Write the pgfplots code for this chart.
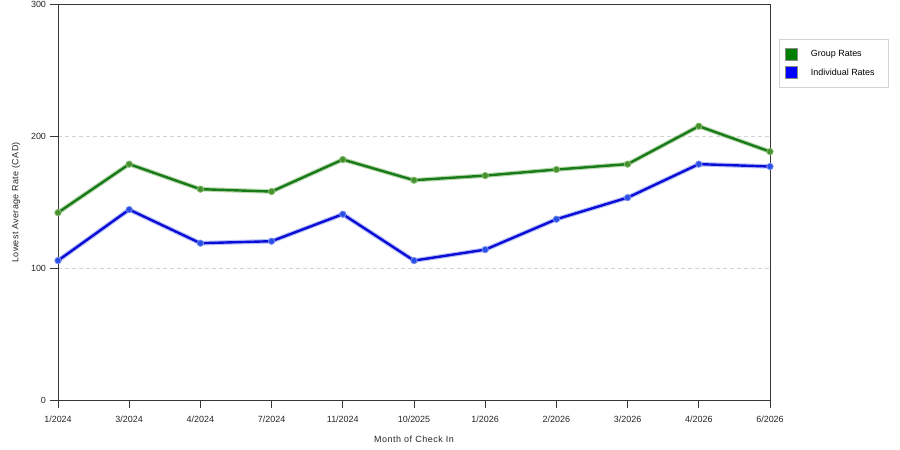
\documentclass[border=0pt]{standalone}
\usepackage{fontspec}
\setmainfont{Liberation Sans}
\newfontfamily\xlabelfont[LetterSpace=6]{Liberation Sans}
\newfontfamily\ylabelfont[LetterSpace=4]{Liberation Sans}
\usepackage{pgfplots}
\pgfplotsset{compat=1.18}

\definecolor{grpline}{RGB}{24,122,24}
\definecolor{grphalo}{RGB}{130,185,110}
\definecolor{grpmark}{RGB}{70,145,45}
\definecolor{grpkey}{RGB}{0,128,0}
\definecolor{indline}{RGB}{12,12,215}
\definecolor{indhalo}{RGB}{120,140,240}
\definecolor{indmark}{RGB}{40,80,230}
\definecolor{indkey}{RGB}{0,0,255}
\definecolor{axisgray}{RGB}{55,55,55}
\definecolor{gridgray}{RGB}{212,212,212}

% lowest average rate per month of check-in
\pgfplotstableread{
x group indiv
0  142.2 105.8
1  179.0 144.5
2  160.0 119.0
3  158.2 120.5
4  182.5 141.0
5  166.8 105.8
6  170.3 114.1
7  174.9 137.2
8  179.0 153.6
9  207.8 179.0
10 188.5 177.2
}\rates

\begin{document}
\begin{tikzpicture}
\begin{axis}[
    name=ax,
    at={(0,0)}, anchor=south west,
    scale only axis,
    width=712bp, height=395.3bp,
    xmin=0, xmax=10,
    ymin=0, ymax=300,
    xtick={0,...,10},
    xticklabels={1/2024,3/2024,4/2024,7/2024,11/2024,10/2025,1/2026,2/2026,3/2026,4/2026,6/2026},
    ytick={0,100,200,300},
    xtick pos=left, ytick pos=left,
    tick align=outside,
    major tick length=8bp,
    every tick/.style={axisgray, line width=0.8bp},
    axis line style={axisgray, line width=0.9bp},
    ymajorgrids=true,
    grid style={gridgray, dash pattern=on 4bp off 3bp, line width=0.6bp},
    /pgf/number format/assume math mode=true,
    ticklabel style={font=\fontsize{9}{10}\selectfont, text=black!85},
    xticklabel style={yshift=-4.5bp},
    yticklabel style={xshift=-0.5bp},
    xlabel={\xlabelfont Month of Check In},
    ylabel={\ylabelfont Lowest Average Rate (CAD)},
    xlabel style={font=\fontsize{9}{10}\selectfont, text=black!85, yshift=-7bp},
    ylabel style={font=\fontsize{9}{10}\selectfont, text=black!85, yshift=4bp},
    clip=false,
    legend style={
        at={(1.01264,0.9132)}, anchor=north west,
        draw=gridgray, fill=white, line width=0.8bp,
        inner xsep=6bp, inner ysep=8.5bp,
        row sep=6bp, column sep=11bp,
        font=\fontsize{9}{10}\selectfont,
    },
    legend cell align=left,
]
\addplot[grphalo, line width=4.6bp, opacity=0.55, forget plot] table[x=x, y=group] {\rates};
\addplot[indhalo, line width=4.6bp, opacity=0.55, forget plot] table[x=x, y=indiv] {\rates};

\addplot[grpline, line width=2.4bp, mark=*, mark size=3.2bp,
    mark options={fill=grpmark, draw=grphalo, line width=0.8bp},
    legend image code/.code={\path[fill=grpkey, draw=black!45, line width=0.5bp] (0bp,-5.8bp) rectangle (12bp,6.2bp);}]
    table[x=x, y=group] {\rates};
\addlegendentry{\makebox[70bp][l]{Group Rates}}

\addplot[indline, line width=2.4bp, mark=*, mark size=3.2bp,
    mark options={fill=indmark, draw=indhalo, line width=0.8bp},
    legend image code/.code={\path[fill=indkey, draw=black!45, line width=0.5bp] (0bp,-5.8bp) rectangle (12bp,6.2bp);}]
    table[x=x, y=indiv] {\rates};
\addlegendentry{\makebox[70bp][l]{Individual Rates}}
\end{axis}
\pgfresetboundingbox
\path (-58bp,-50bp) rectangle (842bp,400bp);
\end{tikzpicture}
\end{document}
